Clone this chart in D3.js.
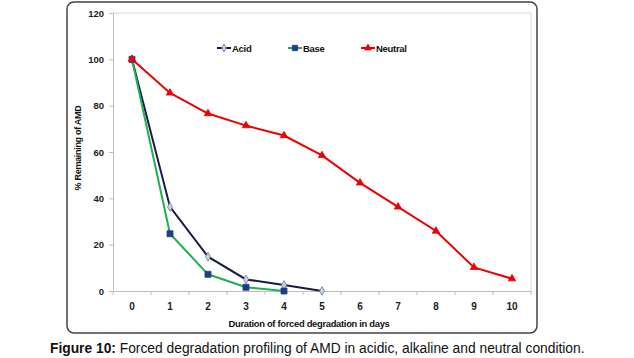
<!DOCTYPE html>
<html><head><meta charset="utf-8">
<script src="https://cdn.jsdelivr.net/npm/d3@7"></script>
<style>body{margin:0;background:#fff}svg{display:block}</style>
</head><body>
<script>
const days = [0,1,2,3,4,5,6,7,8,9,10];
const acid = [100,36.3,14.8,5.0,2.6,0];
const base = [100,24.7,7.2,1.6,0];
const neutral = [100,85.5,76.6,71.4,67.1,58.5,46.7,36.3,25.9,10.2,5.3];
const yTicks = [0,20,40,60,80,100,120];
const seriesNames = ["Acid","Base","Neutral"];

const W=634,H=358;
const svg=d3.select("body").append("svg").attr("width",W).attr("height",H);
const font="'Liberation Sans', Arial, sans-serif";

// outer chart frame
svg.append("rect").attr("x",67).attr("y",2).attr("width",470).attr("height",331)
  .attr("rx",7).attr("fill","none").attr("stroke","#444").attr("stroke-width",1.5);

const L=113,R=531,T=13,B=291;
const x=d3.scaleBand().domain(days).range([L,R]);
const y=d3.scaleLinear().domain([0,120]).range([B,T]);

// plot frame (light)
svg.append("path").attr("d",`M${L},${T}H${R}V${B}`).attr("fill","none").attr("stroke","#d9d9d9").attr("stroke-width",1);

// y axis
const ya=svg.append("g").attr("transform",`translate(${L},0)`)
  .call(d3.axisLeft(y).tickValues(yTicks).tickSize(4).tickPadding(5));
ya.select(".domain").attr("stroke","#bfbfbf");
ya.selectAll(".tick line").attr("stroke","#bfbfbf");
ya.selectAll("text").attr("font-family",font).attr("font-weight","bold").attr("font-size",9.5).attr("fill","#222");

// x axis
const xa=svg.append("g").attr("transform",`translate(0,${B})`)
  .call(d3.axisBottom(x).tickSize(0).tickPadding(12));
xa.select(".domain").attr("stroke","#bfbfbf");
xa.selectAll("text").attr("font-family",font).attr("font-weight","bold").attr("font-size",10).attr("fill","#222");
// category boundary ticks
const bounds=days.map(d=>x(d)).concat([R]);
xa.selectAll(".bt").data(bounds).enter().append("line").attr("class","bt")
  .attr("x1",d=>d).attr("x2",d=>d).attr("y1",0).attr("y2",4).attr("stroke","#bfbfbf");

// axis titles
svg.append("text").attr("x",(L+R)/2-13).attr("y",327).attr("text-anchor","middle")
  .attr("font-family",font).attr("font-weight","bold").attr("font-size",9.4).attr("letter-spacing",-0.3).attr("fill","#111")
  .text("Duration of forced degradation in days");
svg.append("text").attr("transform",`translate(81,148) rotate(-90)`).attr("text-anchor","middle")
  .attr("font-family",font).attr("font-weight","bold").attr("font-size",9).attr("letter-spacing",-0.3).attr("fill","#111")
  .text("% Remaining of AMD");

const cx=i=>x(days[i])+x.bandwidth()/2;
const line=d3.line().x((d,i)=>cx(i)).y(d=>y(d));

const styles={
  Acid:{data:acid,color:"#1a1a4a",sym:d3.symbolDiamond,size:22,fill:"#c9d4e2",stroke:"#6b7b99"},
  Base:{data:base,color:"#1fb050",sym:d3.symbolSquare,size:36,fill:"#1f3c8c",stroke:"#1f3c8c"},
  Neutral:{data:neutral,color:"#ee0000",sym:d3.symbolTriangle,size:24,fill:"#ee0000",stroke:"#ee0000"}
};

seriesNames.forEach(n=>{
  const s=styles[n];
  svg.append("path").datum(s.data).attr("d",line).attr("fill","none").attr("stroke",s.color).attr("stroke-width",2);
});
seriesNames.forEach(n=>{
  const s=styles[n];
  svg.selectAll(null).data(s.data).enter().append("path")
    .attr("d",d3.symbol().type(s.sym).size(s.size))
    .attr("transform",(d,i)=>`translate(${cx(i)},${y(d)})`)
    .attr("fill",s.fill).attr("stroke",s.stroke).attr("stroke-width",0.8);
});

// legend
const legX={Acid:217,Base:288,Neutral:361};
seriesNames.forEach(n=>{
  const s=styles[n], lx=legX[n], ly=48;
  svg.append("line").attr("x1",lx).attr("x2",lx+14).attr("y1",ly).attr("y2",ly).attr("stroke",s.color).attr("stroke-width",2);
  svg.append("path").attr("d",d3.symbol().type(s.sym).size(s.size*0.8)).attr("transform",`translate(${lx+7},${ly})`)
    .attr("fill",s.fill).attr("stroke",s.stroke).attr("stroke-width",0.8);
  svg.append("text").attr("x",lx+15).attr("y",ly+3.5).attr("font-family",font).attr("font-weight","bold")
    .attr("font-size",9.5).attr("letter-spacing",-0.3).attr("fill","#111").text(n);
});

// caption
const cap=svg.append("text").attr("x",50).attr("y",353).attr("font-family",font).attr("font-size",13.8).attr("fill","#111");
cap.append("tspan").attr("font-weight","bold").text("Figure 10:");
cap.append("tspan").text(" Forced degradation profiling of AMD in acidic, alkaline and neutral condition.");
</script>
</body></html>
